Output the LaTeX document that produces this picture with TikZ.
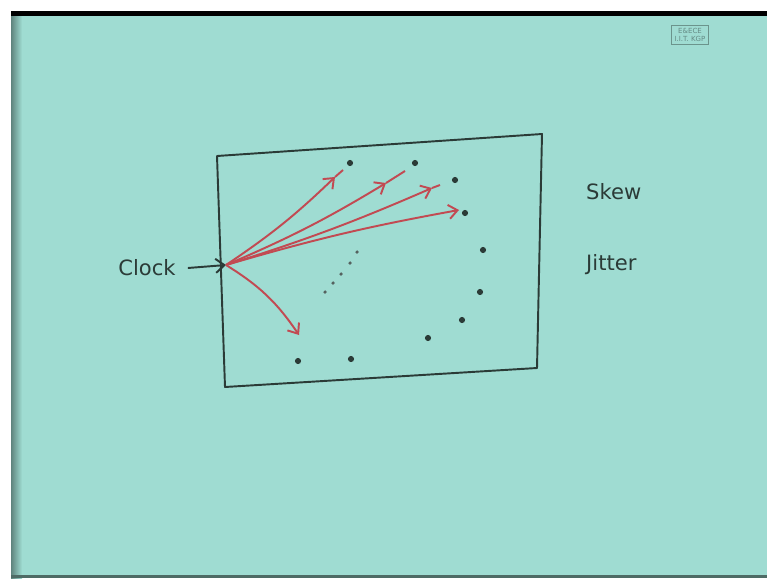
\documentclass[tikz,border=0pt]{standalone}
\usepackage{fontspec}
\setmainfont{DejaVu Sans}
\usetikzlibrary{arrows.meta}
\definecolor{paper}{HTML}{9FDCD2}
\definecolor{ink}{HTML}{2B3B37}
\definecolor{redink}{HTML}{C24A52}
\begin{document}
\begin{tikzpicture}[x=0.02cm,y=-0.02cm,
  inkline/.style={draw=ink,line width=1.1pt,line join=round},
  redline/.style={draw=redink,line width=1.1pt},
  redarrow/.style={redline,-{Straight Barb[length=5pt,width=8pt]}},
  blackarrow/.style={draw=ink,line width=1.1pt,-{Straight Barb[length=5pt,width=8pt]}},
  hand/.style={text=ink,font=\large},
  bigdot/.style={circle,fill=ink,inner sep=0pt,minimum size=3.5pt},
  smalldot/.style={circle,fill=ink!80,inner sep=0pt,minimum size=2pt}]
\useasboundingbox (0,0) rectangle (767,578);
\fill[white] (0,0) rectangle (767,578);
\fill[paper] (11,11) rectangle (767,578);
\fill[black] (11,11) rectangle (767,16);
\shade[left color=ink!55!paper,right color=paper] (11,16) rectangle (22,578);
\fill[ink!70!paper] (11,575) rectangle (767,578);
% stamp
\node[draw=ink!45!paper,line width=0.6pt,inner sep=1.5pt,text=ink!50!paper,font=\fontsize{4}{4.5}\selectfont,align=center] (stamp) at (690,35) {E\&ECE\\I.I.T. KGP};
% board rectangle
\coordinate (tl) at (217,156);
\coordinate (tr) at (542,134);
\coordinate (br) at (537,368);
\coordinate (bl) at (225,387);
\draw[inkline] (tl) -- (tr) -- (br) -- (bl) -- cycle;
% clock
\node[hand] (clock) at (147,268) {Clock};
\coordinate (src) at (226,265);
\draw[blackarrow] (clock.east) ++(6,0) -- (src);
% arrows
\coordinate (e1) at (343,170);
\coordinate (e2) at (405,171);
\coordinate (e3) at (440,185);
\coordinate (e4) at (459,210);
\coordinate (e5) at (299,335);
\draw[redarrow] (src) to[bend right=5] (335,177);
\draw[redline] (335,177) -- (e1);
\draw[redarrow] (src) to[bend right=4] (386,183);
\draw[redline] (386,183) -- (e2);
\draw[redarrow] (src) to[bend right=3] (432,188);
\draw[redline] (432,188) -- (e3);
\draw[redarrow] (src) to[bend left=3] (e4);
\draw[redarrow] (src) to[bend left=12] (e5);
% dots
\foreach \p/\n in {(350,163)/d1,(415,163)/d2,(455,180)/d3,(465,213)/d4,(483,250)/d5,(480,292)/d6,(462,320)/d7,(428,338)/d8,(298,361)/d9,(351,359)/d10}
  \node[bigdot] (\n) at \p {};
\foreach \p/\n in {(357,252)/s1,(350,263)/s2,(341,274)/s3,(333,283)/s4,(325,292)/s5}
  \node[smalldot] (\n) at \p {};
% labels
\node[hand,anchor=west] (skew) at (580,192) {Skew};
\node[hand,anchor=west] (jitter) at (580,265) {Jitter};
\end{tikzpicture}
\end{document}
